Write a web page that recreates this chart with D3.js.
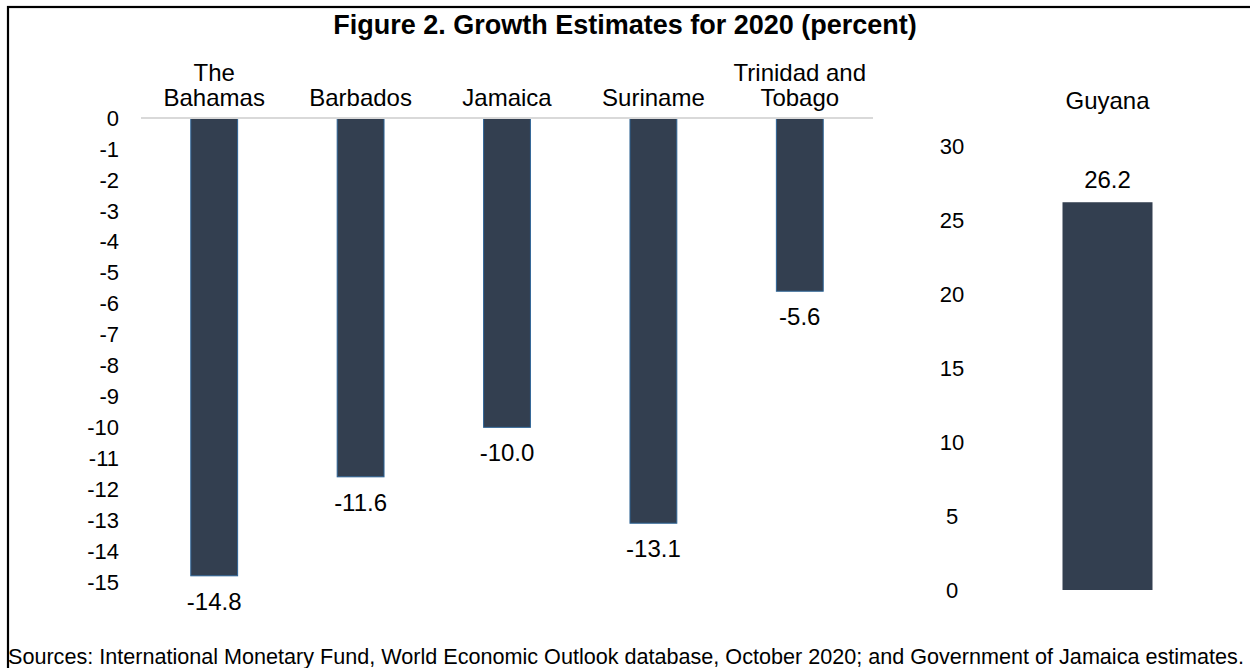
<!DOCTYPE html>
<html>
<head>
<meta charset="utf-8">
<script src="https://cdn.jsdelivr.net/npm/d3@7"></script>
<style>
  html, body { margin: 0; padding: 0; background: #fff; }
  svg { display: block; font-family: "Liberation Sans", Arial, sans-serif; }
</style>
</head>
<body>
<svg id="chart" width="1250" height="668"></svg>
<script>
// Growth estimates for 2020, percent
const leftCountries = [["The", "Bahamas"], ["Barbados"], ["Jamaica"], ["Suriname"], ["Trinidad and", "Tobago"]];
const leftValues = [-14.8, -11.6, -10.0, -13.1, -5.6];
const leftTicks = [0, -1, -2, -3, -4, -5, -6, -7, -8, -9, -10, -11, -12, -13, -14, -15];

const rightCountries = [["Guyana"]];
const rightValues = [26.2];
const rightTicks = [0, 5, 10, 15, 20, 25, 30];

const title = "Figure 2. Growth Estimates for 2020 (percent)";
const source = "Sources: International Monetary Fund, World Economic Outlook database, October 2020; and Government of Jamaica estimates.";

const svg = d3.select("#chart");
const barFill = "#333f50";
const barStroke = "#2e6496";
const tickSize = 22;
const labelSize = 24;

// frame
svg.append("rect")
  .attr("x", 8).attr("y", 7).attr("width", 1260).attr("height", 700)
  .attr("fill", "none").attr("stroke", "#000").attr("stroke-width", 2.2);

svg.append("text")
  .attr("x", 625).attr("y", 34)
  .attr("text-anchor", "middle")
  .attr("font-weight", "bold").attr("font-size", 27)
  .text(title);

// left panel: negative growth
const xL = d3.scaleBand().domain(leftCountries.map((d, i) => i)).range([141, 873]).paddingInner(0.68).paddingOuter(0.34);
const yL = d3.scaleLinear().domain([0, -15]).range([118, 582]);

const gL = svg.append("g");
gL.selectAll("text.tick").data(leftTicks).join("text")
  .attr("class", "tick")
  .attr("x", 119).attr("y", d => yL(d)).attr("dy", "0.35em")
  .attr("text-anchor", "end").attr("font-size", tickSize)
  .text(d => d3.format("d")(d).replace("−", "-"));

gL.selectAll("rect.bar").data(leftValues).join("rect")
  .attr("class", "bar")
  .attr("x", (d, i) => xL(i)).attr("width", xL.bandwidth())
  .attr("y", yL(0)).attr("height", d => yL(d) - yL(0))
  .attr("fill", barFill).attr("stroke", barStroke).attr("stroke-width", 1);

gL.append("line")
  .attr("x1", 141).attr("x2", 873).attr("y1", yL(0)).attr("y2", yL(0))
  .attr("stroke", "#d9d9d9").attr("stroke-width", 2);

gL.selectAll("text.val").data(leftValues).join("text")
  .attr("class", "val")
  .attr("x", (d, i) => xL(i) + xL.bandwidth() / 2)
  .attr("y", d => yL(d) + 34)
  .attr("text-anchor", "middle").attr("font-size", labelSize)
  .text(d => d3.format(".1f")(d).replace("−", "-"));

leftCountries.forEach((lines, i) => {
  const t = gL.append("text")
    .attr("x", xL(i) + xL.bandwidth() / 2)
    .attr("text-anchor", "middle").attr("font-size", labelSize);
  lines.forEach((s, k) => {
    t.append("tspan")
      .attr("x", xL(i) + xL.bandwidth() / 2)
      .attr("y", 105.5 - (lines.length - 1 - k) * 25)
      .text(s);
  });
});

// right panel: positive growth
const xR = d3.scaleBand().domain(rightCountries.map((d, i) => i)).range([1040, 1175]).padding(0.2);
const yR = d3.scaleLinear().domain([0, 30]).range([590, 146]);

const gR = svg.append("g");
gR.selectAll("text.tick").data(rightTicks).join("text")
  .attr("class", "tick")
  .attr("x", 952).attr("y", d => yR(d)).attr("dy", "0.35em")
  .attr("text-anchor", "middle").attr("font-size", tickSize)
  .text(d => d);

gR.selectAll("rect.bar").data(rightValues).join("rect")
  .attr("class", "bar")
  .attr("x", (d, i) => xR(i)).attr("width", xR.bandwidth())
  .attr("y", d => yR(d)).attr("height", d => yR(0) - yR(d))
  .attr("fill", barFill);

gR.selectAll("text.val").data(rightValues).join("text")
  .attr("class", "val")
  .attr("x", (d, i) => xR(i) + xR.bandwidth() / 2)
  .attr("y", d => yR(d) - 14.5)
  .attr("text-anchor", "middle").attr("font-size", labelSize)
  .text(d => d3.format(".1f")(d));

gR.selectAll("text.cat").data(rightCountries).join("text")
  .attr("class", "cat")
  .attr("x", (d, i) => xR(i) + xR.bandwidth() / 2)
  .attr("y", 108.5)
  .attr("text-anchor", "middle").attr("font-size", labelSize)
  .text(d => d.join(" "));

svg.append("text")
  .attr("x", 8).attr("y", 664)
  .attr("font-size", 21.6)
  .text(source);
</script>
</body>
</html>
